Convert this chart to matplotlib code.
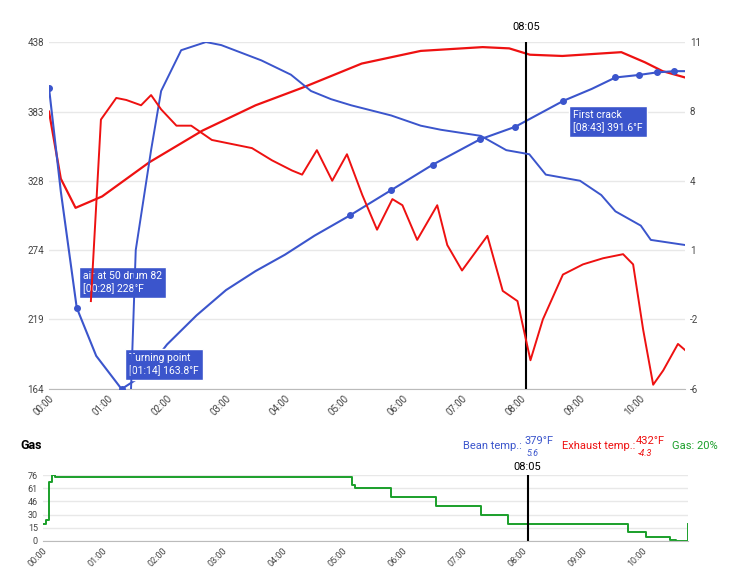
import matplotlib.pyplot as plt
import numpy as np

plt.rcParams["font.family"] = "Roboto"

# times in minutes
bean_t = [0, 0.2, 0.47, 0.8, 1.23, 1.6, 2.0, 2.5, 3.0, 3.5, 4.0, 4.5, 5.1, 5.8, 6.5, 7.3, 7.9, 8.72, 9.2, 9.6, 10.0, 10.3, 10.6, 10.78]
bean_temp = [401.7, 320, 228, 190, 163.8, 175, 199, 222, 242, 257, 270, 285, 301, 321, 341, 361, 371, 391.6, 401, 410, 412, 414, 415, 415]
bean_marks = [0, 0.47, 1.23, 5.1, 5.8, 6.5, 7.3, 7.9, 8.72, 9.6, 10.0, 10.3, 10.6]

exh_t = [0, 0.2, 0.45, 0.9, 1.7, 2.6, 3.5, 4.3, 5.3, 6.3, 7.35, 7.8, 8.15, 8.7, 9.7, 10.1, 10.4, 10.78]
exh_temp = [383, 330, 307, 316, 343, 368, 388, 402, 421, 431, 434, 433, 428, 427, 430, 422, 415, 410]

bean_ror_t = [1.39, 1.47, 1.73, 1.9, 2.24, 2.66, 2.92, 3.6, 4.1, 4.44, 4.78, 5.12, 5.8, 6.3, 6.64, 7.32, 7.75, 8.14, 8.42, 9.0, 9.36, 9.6, 10.03, 10.2, 10.78]
bean_ror = [-6, 0.8, 5.7, 8.6, 10.6, 11, 10.85, 10.1, 9.4, 8.6, 8.2, 7.9, 7.4, 6.9, 6.7, 6.4, 5.7, 5.5, 4.5, 4.2, 3.5, 2.7, 2.0, 1.3, 1.05]

exh_ror_t = [0.71, 0.88, 1.14, 1.31, 1.56, 1.73, 1.9, 2.16, 2.41, 2.76, 3.1, 3.44, 3.78, 4.12, 4.29, 4.54, 4.8, 5.05, 5.31, 5.56, 5.82, 5.99, 6.24, 6.58, 6.75, 7.0, 7.43, 7.69, 7.94, 8.16, 8.37, 8.71, 9.05, 9.39, 9.73, 9.9, 10.07, 10.24, 10.41, 10.66, 10.78]
exh_ror = [-1.7, 7.2, 8.26, 8.16, 7.9, 8.4, 7.7, 6.9, 6.9, 6.2, 6.0, 5.8, 5.2, 4.7, 4.5, 5.7, 4.2, 5.5, 3.5, 1.8, 3.3, 3.0, 1.3, 3.0, 1.05, -0.2, 1.5, -1.2, -1.7, -4.6, -2.6, -0.4, 0.1, 0.4, 0.6, 0.1, -3.1, -5.8, -5.1, -3.8, -4.1]

gas_t = [0, 0.05, 0.1, 0.15, 0.2, 5.1, 5.15, 5.2, 5.75, 5.8, 6.5, 6.55, 7.25, 7.3, 7.7, 7.75, 9.7, 9.75, 10.0, 10.05, 10.4, 10.45, 10.55, 10.7, 10.75]
gas = [20, 24, 68, 76, 74, 74, 65, 61, 61, 51, 51, 40, 40, 30, 30, 20, 20, 10, 10, 5, 5, 1, 0, 0, 20]

left_ticks = [164, 219, 274, 328, 383, 438]
right_ticks = ["-6", "-2", "1", "4", "8", "11"]
gas_ticks = [0, 15, 30, 46, 61, 76]
time_labels = ["%02d:00" % m for m in range(11)]

BLUE = "#3b55cc"
RED = "#ee1111"
GREEN = "#1a9f2a"
TXT = "#444444"

fig = plt.figure(figsize=(7.37, 5.76), dpi=100)
ax = fig.add_axes([0.0665, 0.325, 0.863, 0.602])
ax2 = ax.twinx()

xmax = 10.78
ax.set_xlim(0, xmax)
ax.set_ylim(164, 438)
ax2.set_ylim(-6, 11)

ax.plot(exh_t, exh_temp, color=RED, lw=1.6, zorder=3)
ax.plot(bean_t, bean_temp, color=BLUE, lw=1.5, zorder=3)
ax.plot(bean_marks, np.interp(bean_marks, bean_t, bean_temp), "o", color=BLUE, ms=4, zorder=4)
ax2.plot(bean_ror_t, bean_ror, color=BLUE, lw=1.4)
ax2.plot(exh_ror_t, exh_ror, color=RED, lw=1.4)

ax.set_yticks(left_ticks)
ax2.set_yticks(np.linspace(-6, 11, 6))
ax2.set_yticklabels(right_ticks)
ax.set_xticks(range(11))
ax.set_xticklabels(time_labels, rotation=45, ha="right", rotation_mode="anchor")
for a in (ax, ax2):
    a.tick_params(length=0, labelsize=7, colors=TXT)
    for s in a.spines.values():
        s.set_visible(False)
ax.spines["bottom"].set_visible(True)
ax.spines["bottom"].set_color("#bbbbbb")
ax.grid(axis="y", color="#e8e8e8", lw=1)
ax.set_axisbelow(True)

ax.axvline(8.083, color="black", lw=1.5, zorder=5)
ax.text(8.083, 446, "08:05", ha="center", va="bottom", fontsize=8)

box = dict(boxstyle="square,pad=0.4", fc=BLUE, ec="white")
ax.text(0.58, 248, "air at 50 drum 82\n[00:28] 228°F", color="white", fontsize=7.5, bbox=box, va="center", zorder=6)
ax.text(1.36, 183, "Turning point\n[01:14] 163.8°F", color="white", fontsize=7.5, bbox=box, va="center", zorder=6)
ax.text(8.88, 375, "First crack\n[08:43] 391.6°F", color="white", fontsize=7.5, bbox=box, va="center", zorder=6)

# gas panel
gx = fig.add_axes([0.058, 0.061, 0.875, 0.114])
gx.step(gas_t, gas, where="post", color=GREEN, lw=1.4)
gx.set_xlim(0, 10.75)
gx.set_ylim(0, 76)
gx.set_yticks(gas_ticks)
gx.set_xticks(range(11))
gx.set_xticklabels(time_labels, rotation=45, ha="right", rotation_mode="anchor")
gx.tick_params(length=0, labelsize=6.5, colors=TXT)
for s in gx.spines.values():
    s.set_visible(False)
gx.spines["bottom"].set_visible(True)
gx.spines["bottom"].set_color("#bbbbbb")
gx.grid(axis="y", color="#e8e8e8", lw=1)
gx.axvline(8.083, color="black", lw=1.5)
gx.text(8.083, 80, "08:05", ha="center", va="bottom", fontsize=8)

fig.text(0.028, 0.226, "Gas", fontsize=9, fontweight="bold", va="center")
fig.text(0.628, 0.226, "Bean temp.:", color=BLUE, fontsize=8, va="center")
fig.text(0.711, 0.234, "379°F", color=BLUE, fontsize=8, va="center")
fig.text(0.714, 0.212, "5.6", color=BLUE, fontsize=6.5, style="italic", va="center")
fig.text(0.763, 0.226, "Exhaust temp.:", color=RED, fontsize=8, va="center")
fig.text(0.862, 0.234, "432°F", color=RED, fontsize=8, va="center")
fig.text(0.865, 0.212, "-4.3", color=RED, fontsize=6.5, style="italic", va="center")
fig.text(0.912, 0.226, "Gas: 20%", color=GREEN, fontsize=8, va="center")

fig.savefig("out.png")
